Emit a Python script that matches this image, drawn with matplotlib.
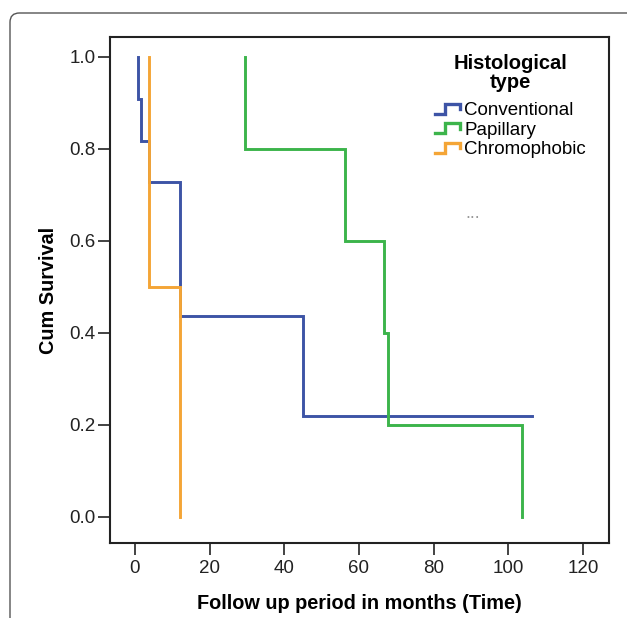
import matplotlib
matplotlib.use("Agg")
import matplotlib.pyplot as plt
from matplotlib.lines import Line2D
from matplotlib.legend_handler import HandlerBase
from matplotlib.patches import FancyBboxPatch

plt.rcParams['font.family'] = ['Liberation Sans', 'DejaVu Sans']

# Kaplan-Meier steps (time in months, cumulative survival)
conv_time = [0.9, 0.9, 1.5, 3.8, 12.0, 45.0, 106.5]
conv_surv = [1.0, 0.909, 0.818, 0.727, 0.436, 0.218, 0.218]

pap_time = [29.5, 29.5, 56.3, 66.7, 67.8, 103.7, 103.7]
pap_surv = [1.0, 0.8, 0.6, 0.4, 0.2, 0.0, 0.0]

chromo_time = [3.8, 3.8, 12.0, 12.0]
chromo_surv = [1.0, 0.5, 0.0, 0.0]

labels = ['Conventional', 'Papillary', 'Chromophobic']
colors = ['#3d54a6', '#3cb44b', '#f4a536']
x_ticks = [0, 20, 40, 60, 80, 100, 120]
y_ticks = [0.0, 0.2, 0.4, 0.6, 0.8, 1.0]


class StepHandler(HandlerBase):
    # little step-shaped legend icon like SPSS draws
    def create_artists(self, legend, orig_handle, xdescent, ydescent,
                       width, height, fontsize, trans):
        x0, y0 = -xdescent, -ydescent
        xs = [x0, x0 + 0.4 * width, x0 + 0.4 * width, x0 + width, x0 + width]
        ys = [y0 + 0.1 * height, y0 + 0.1 * height, y0 + 0.85 * height,
              y0 + 0.85 * height, y0 + 0.45 * height]
        ln = Line2D(xs, ys, color=orig_handle.get_color(), lw=2.4,
                    solid_joinstyle='miter', transform=trans)
        return [ln]


fig = plt.figure(figsize=(6.27, 6.18), dpi=100)
ax = fig.add_axes([0.1754, 0.1214, 0.7959, 0.8187])

lines = []
for t, s, c, lab in zip([conv_time, pap_time, chromo_time],
                        [conv_surv, pap_surv, chromo_surv], colors, labels):
    ln, = ax.step(t, s, where='post', color=c, lw=2.1, label=lab,
                  solid_joinstyle='miter')
    lines.append(ln)

ax.text(90.5, 0.65, '...', color='#999999', fontsize=13, ha='center')

ax.set_xlim(-6.7, 127)
ax.set_ylim(-0.057, 1.043)
ax.set_xticks(x_ticks)
ax.set_yticks(y_ticks)
ax.set_yticklabels([f'{v:.1f}' for v in y_ticks])
ax.tick_params(direction='out', length=8.5, width=1.2, labelsize=13.5,
               colors='#222222', pad=2)
ax.tick_params(axis='x', pad=4)
for sp in ax.spines.values():
    sp.set_linewidth(1.5)
    sp.set_color('#222222')

ax.set_xlabel('Follow up period in months (Time)', fontsize=14.3,
              fontweight='bold', labelpad=12)
ax.set_ylabel('Cum Survival', fontsize=14.3, fontweight='bold', labelpad=8)

leg = ax.legend(handles=lines, labels=labels, title='Histological\ntype',
                loc='upper right', bbox_to_anchor=(0.98, 0.993), frameon=False,
                fontsize=13.5, handler_map={Line2D: StepHandler()},
                handlelength=1.35, handletextpad=0.2, labelspacing=0.12,
                borderaxespad=0.3)
leg.get_title().set_fontweight('bold')
leg.get_title().set_fontsize(14.5)
leg.get_title().set_multialignment('center')
leg.get_title().set_linespacing(1.0)
leg._legend_box.sep = 7.5  # gap between title and entries

# outer rounded frame of the figure panel
frame = FancyBboxPatch((10 / 627, -0.1), 1.2, 0.98 + 0.1 - 13 / 618 + 0.02,
                       boxstyle='round,pad=0,rounding_size=0.015',
                       transform=fig.transFigure, fill=False,
                       edgecolor='#555555', lw=1.0)
fig.patches.append(frame)

fig.savefig('out.png', dpi=100)
